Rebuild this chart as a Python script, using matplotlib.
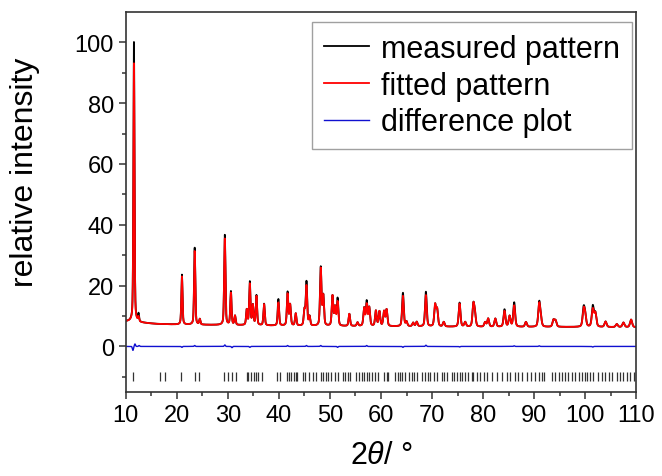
import numpy as np
import matplotlib
matplotlib.use("Agg")
import matplotlib.pyplot as plt
from matplotlib.ticker import MultipleLocator, FixedLocator

plt.rcParams["font.family"] = ["Liberation Sans", "DejaVu Sans"]
plt.rcParams["mathtext.fontset"] = "custom"
plt.rcParams["mathtext.rm"] = "Liberation Sans"
plt.rcParams["mathtext.it"] = "Liberation Sans:italic"

# ---------- data ----------
# peak positions (2theta, deg) and heights above background (measured / fitted)
peak_pos = [11.6, 12.5, 21.0, 23.5, 24.5, 29.4, 30.6, 31.4, 33.7, 34.3, 34.9, 35.6,
            37.1, 39.9, 41.7, 42.2, 43.3, 45.0, 45.4, 46.0, 48.2, 48.7, 50.5, 51.0,
            51.5, 53.8, 55.4, 56.7, 57.2, 57.7, 59.0, 59.7, 60.6, 61.1, 64.3, 65.0,
            66.3, 67.0, 68.8, 70.6, 71.0, 72.3, 75.4, 76.5, 78.1, 78.4, 80.4, 81.0,
            82.4, 84.2, 85.2, 86.1, 88.4, 91.0, 91.3, 93.8, 94.2, 99.7, 100.0, 101.5,
            102.0, 104.0, 106.2, 107.5, 109.0]
meas_height = [92.0, 2.5, 16.4, 25.3, 1.8, 29.6, 11.0, 3.0, 5.0, 14.2, 6.5, 9.8,
               7.1, 8.7, 11.0, 6.8, 4.0, 5.0, 14.4, 3.0, 19.2, 9.8, 9.8, 6.0,
               9.0, 4.0, 1.2, 5.8, 8.0, 6.0, 5.0, 4.8, 4.8, 5.4, 11.0, 1.5,
               1.2, 1.5, 11.4, 7.0, 5.5, 1.5, 7.9, 1.5, 7.1, 4.0, 1.5, 2.7,
               2.7, 5.7, 3.5, 8.0, 1.6, 7.8, 2.5, 2.2, 2.0, 5.8, 3.5, 6.8,
               4.5, 1.8, 1.0, 1.5, 2.5]
fit_height = [85.0, 1.5, 15.8, 24.2, 1.8, 28.4, 10.5, 3.0, 5.0, 13.5, 6.5, 9.5,
              7.0, 7.6, 10.4, 6.8, 4.0, 5.0, 13.0, 3.0, 18.8, 9.7, 9.8, 6.0,
              7.9, 4.0, 1.2, 5.8, 7.0, 6.0, 5.0, 4.8, 4.8, 5.4, 10.0, 1.5,
              1.2, 1.5, 10.3, 7.0, 5.5, 1.5, 7.6, 1.5, 7.0, 4.0, 1.5, 2.7,
              2.7, 5.2, 3.5, 7.0, 1.6, 7.3, 2.5, 2.2, 2.0, 5.3, 3.5, 5.8,
              4.5, 1.8, 1.0, 1.5, 2.5]

# background anchor points
bg_pos = [10, 11, 13, 16, 20, 30, 45, 60, 80, 95, 110]
bg_val = [8.2, 8.2, 7.8, 7.4, 7.2, 7.0, 6.7, 6.6, 6.4, 6.4, 6.3]

# small residual features of the difference curve
diff_pos = [11.4, 11.8, 12.6, 21.0, 23.5, 29.4, 30.8, 34.3, 41.7, 45.4, 48.2, 51.5,
            57.2, 64.3, 68.8, 75.4, 86.1, 91.0, 101.5]
diff_amp = [-1.3, 0.8, 0.3, -0.3, 0.3, 0.5, -0.4, -0.3, 0.3, 0.3, 0.3, -0.3,
            0.3, -0.3, 0.4, -0.2, 0.2, 0.2, -0.2]

# reflection positions (tick marks)
hkl_pos = [11.4, 16.8, 17.6, 20.9, 23.5, 24.3, 29.3, 30.1, 30.8, 31.5, 33.7, 34.0,
           34.6, 35.1, 35.6, 36.0, 36.7, 39.7, 40.2, 41.5, 42.0, 42.4, 42.9, 43.3,
           43.5, 44.8, 45.2, 45.8, 46.7, 47.2, 48.2, 48.7, 49.2, 49.7, 50.3, 51.0,
           51.6, 52.5, 52.9, 53.5, 53.9, 55.2, 55.7, 56.2, 56.7, 57.2, 57.6, 58.2,
           58.8, 59.5, 60.6, 61.1, 61.4, 62.7, 63.3, 63.7, 64.2, 64.7, 65.4, 66.0,
           66.5, 67.0, 68.0, 68.6, 69.2, 69.6, 70.3, 70.9, 71.9, 72.4, 72.9, 73.9,
           74.4, 74.8, 75.4, 75.8, 76.5, 77.1, 77.8, 78.1, 78.8, 79.4, 80.1, 80.7,
           81.7, 82.7, 83.7, 84.6, 85.3, 86.3, 86.8, 87.6, 88.6, 89.4, 90.2, 91.0,
           91.5, 92.0, 93.5, 94.1, 94.8, 95.4, 96.1, 96.7, 97.4, 98.0, 98.7, 99.4,
           99.9, 100.4, 101.0, 101.6, 102.6, 103.3, 103.9, 104.6, 105.2, 106.2, 106.9,
           107.5, 108.2, 108.8, 109.5]
hkl_level = -10

# ---------- profiles ----------
tth = np.linspace(10, 110, 8001)


def profile(pos, heights):
    y = np.interp(tth, bg_pos, bg_val)
    for p, h in zip(pos, heights):
        w = 0.11 + 0.0012 * p          # half width
        g = np.exp(-np.log(2) * ((tth - p) / w) ** 2)
        lo = 1.0 / (1.0 + ((tth - p) / w) ** 2)
        y = y + h * (0.6 * g + 0.4 * lo)
    return y


measured = profile(peak_pos, meas_height)
fitted = profile(peak_pos, fit_height)
diff = np.zeros_like(tth)
for p, a in zip(diff_pos, diff_amp):
    diff += a * np.exp(-((tth - p) / 0.15) ** 2)

# ---------- plot ----------
fig = plt.figure(figsize=(6.62, 4.77), dpi=100)
ax = fig.add_axes([0.190, 0.176, 0.771, 0.797])

ax.plot(tth, measured, color="black", lw=1.3, label="measured pattern")
ax.plot(tth, fitted, color="#ff0000", lw=1.3, label="fitted pattern")
ax.plot(tth, diff, color="#1010d0", lw=1.0, label="difference plot")
ax.vlines(hkl_pos, hkl_level - 1.5, hkl_level + 1.5, color="#333333", lw=0.9)

ax.set_xlim(10, 110)
ax.set_ylim(-15, 110)
ax.xaxis.set_major_locator(MultipleLocator(10))
ax.xaxis.set_minor_locator(MultipleLocator(5))
ax.yaxis.set_major_locator(FixedLocator([0, 20, 40, 60, 80, 100]))
ax.yaxis.set_minor_locator(FixedLocator([-10, 10, 30, 50, 70, 90]))
ax.tick_params(which="both", direction="out", labelsize=17, width=1.1, color="#333333")
ax.tick_params(which="major", length=5)
ax.tick_params(which="minor", length=3)
for s in ax.spines.values():
    s.set_linewidth(1.2)
    s.set_color("#333333")

ax.set_ylabel("relative intensity", fontsize=23)
ax.yaxis.set_label_coords(-0.168, 0.58)
ax.set_xlabel(r"2$\theta$/ °", fontsize=22, labelpad=10)

leg = ax.legend(loc="upper right", fontsize=22, handlelength=1.45, handletextpad=0.4,
                borderpad=0.4, labelspacing=0.22, fancybox=False, borderaxespad=0,
                bbox_to_anchor=(0.992, 0.9745))
leg.get_frame().set_edgecolor("#888888")
leg.get_frame().set_linewidth(1.0)

fig.savefig("out.png", dpi=100, facecolor="white")
